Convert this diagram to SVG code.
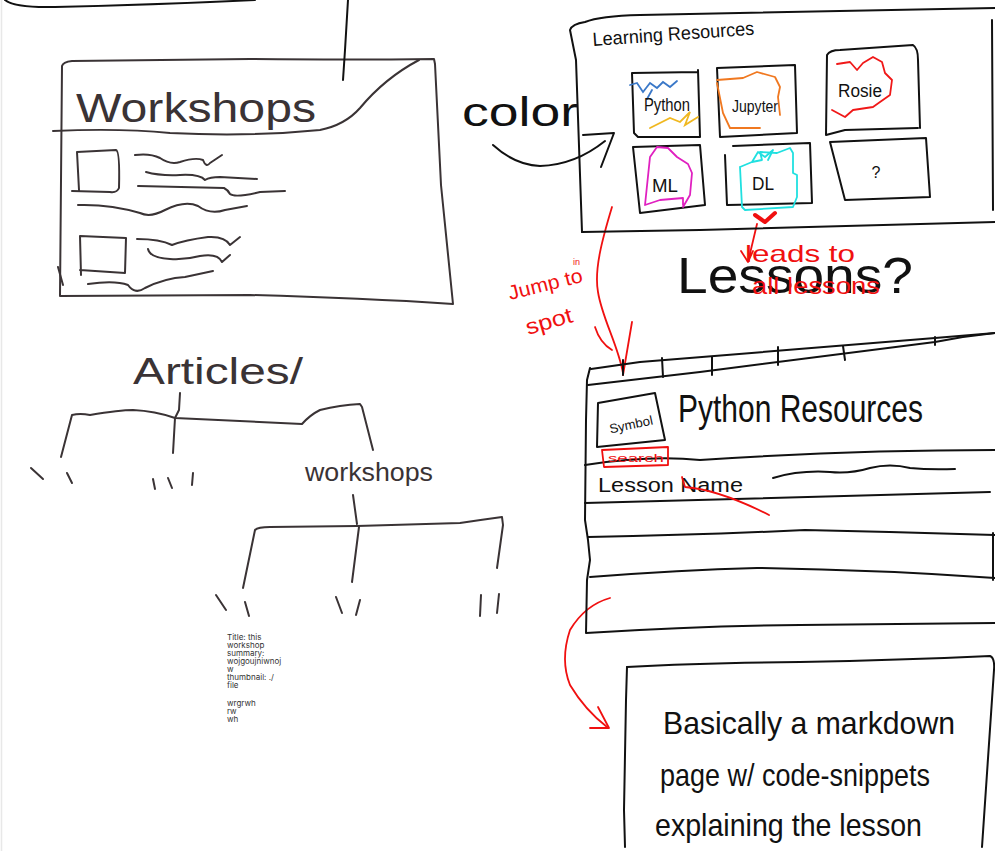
<svg xmlns="http://www.w3.org/2000/svg" width="995" height="851" viewBox="0 0 995 851">
<style>
.k{fill:none;stroke:#111;stroke-width:2;stroke-linecap:round;stroke-linejoin:round}
.g{fill:none;stroke:#3a3335;stroke-width:2;stroke-linecap:round;stroke-linejoin:round}
.r{fill:none;stroke:#f01010;stroke-width:1.8;stroke-linecap:round;stroke-linejoin:round}
.hw{font-family:"Liberation Sans","DejaVu Sans",sans-serif;fill:#111}
.hn{font-family:"Liberation Sans Narrow","Liberation Sans","DejaVu Sans",sans-serif;fill:#111}
.hg{font-family:"Liberation Sans","DejaVu Sans",sans-serif;fill:#3a3335}
.hr{font-family:"Liberation Sans","DejaVu Sans",sans-serif;fill:#f01010}
.note{font-family:Inter,"Liberation Sans",sans-serif;font-size:8px;fill:#333}
</style>
<rect width="995" height="851" fill="#fff"/>
<line x1="1.5" y1="0" x2="1.5" y2="851" stroke="#e8e8e8" stroke-width="1.5"/>

<g id="top-scribble">
<path class="k" d="M5,0 Q15,8 55,7 Q150,5 255,0"/>
</g>

<g id="workshops-card">
<path class="g" d="M60,296 L62,66 Q63,62 72,61 L250,59 Q350,60 434,59 L435,64 L441,185 L453,304 Q360,298 250,295 L60,296"/>
<path class="g" d="M53,131 Q120,128 170,133 Q250,137 320,130 Q345,125 360,108 Q385,78 419,60"/>
<text class="hg" x="76" y="122" font-size="40" textLength="240" lengthAdjust="spacingAndGlyphs">Workshops</text>
<path class="g" d="M77,152 L116,150 Q120,151 119,188 Q117,193 110,192 L72,191 M77,152 L79,190"/>
<path class="g" d="M80,236 L126,238 L125,273 L80,270 M80,236 L81,275 M58,267 L63,285"/>
<path class="g" d="M135,155 Q150,153 160,158 Q170,165 180,162 Q195,157 203,160 Q206,168 210,163 L222,155"/>
<path class="g" d="M146,172 Q160,176 180,175 Q200,174 205,180 Q210,177 220,177 L257,179"/>
<path class="g" d="M138,186 L224,188 Q228,190 230,194 Q235,198 260,192 L285,191"/>
<path class="g" d="M78,205 Q110,204 140,213 Q150,218 165,210 Q185,200 198,206 Q210,215 225,210 L247,206"/>
<path class="g" d="M137,239 Q160,239 172,245 Q185,240 208,237 Q225,236 230,245 L240,237"/>
<path class="g" d="M148,249 Q150,258 170,259 Q185,260 200,256 Q218,253 222,262 L230,255"/>
<path class="g" d="M88,284 Q115,280 128,285 Q135,295 145,288 Q165,278 185,277 L213,271"/>
</g>

<g id="connectors">
<path class="k" d="M348,0 L345,50 L343,80"/>
<path class="k" d="M493,145 Q515,165 540,166 Q575,165 605,141"/>
<path class="k" d="M583,135 L614,133 L601,167"/>
<path class="r" d="M612,207 C602,240 594,270 598,292 C602,318 618,345 623,373"/>
<path class="r" d="M595,327 Q600,343 612,350 M632,322 L623,375"/>
<path class="r" d="M757,224 L748,262 M741,251 L748,262 L753,251"/>
<path class="r" d="M610,598 Q585,605 570,630 Q560,660 570,685 Q585,710 607,727"/>
<path class="r" d="M590,728 L609,728 L598,707"/>
<path class="g" d="M180,393 L179,410 L175,418"/>
<path class="g" d="M61,457 L72,415 Q80,413 90,415 Q120,410 133,410 Q155,411 175,418 L302,424 Q310,415 320,410 Q340,405 360,404 L362,407 L373,450"/>
<path class="g" d="M175,418 L173,453"/>
<path class="g" d="M353,495 L357,524"/>
<path class="g" d="M243,588 L255,530 Q258,527 270,527 L357,526 L460,523 Q480,520 502,517 L503,525 L497,568"/>
<path class="g" d="M359,527 L352,582"/>
</g>

<g id="color-label">
<text class="hw" x="462" y="126" font-size="40" textLength="116" lengthAdjust="spacingAndGlyphs">color</text>
</g>

<g id="learning-resources">
<path class="k" d="M582,232 L576,60 L570,30 Q572,24 585,22 Q600,16 640,15 L995,8"/>
<path class="k" d="M992,20 L993,210"/>
<path class="k" d="M582,232 L700,230 L995,222"/>
<text class="hw" x="593" y="46" font-size="19" textLength="162" lengthAdjust="spacingAndGlyphs" transform="rotate(-4 593 46)">Learning Resources</text>
</g>

<g id="tile-python">
<path class="k" d="M632,73 L698,72 M698,70 L700,137 L638,137 L634,133 L632,73"/>
<path fill="none" stroke="#3a78c8" stroke-width="1.8" stroke-linecap="round" d="M630,85 L637,83 L643,92 L650,83 L657,88 L663,82 L670,87 L677,81 M652,90 L647,99"/>
<path fill="none" stroke="#f0b820" stroke-width="1.8" stroke-linecap="round" d="M650,128 L670,118 L680,122 L690,112 L685,125 L698,117"/>
<text class="hw" x="667" y="111" font-size="18" text-anchor="middle" textLength="46" lengthAdjust="spacingAndGlyphs">Python</text>
</g>

<g id="tile-jupyter">
<path class="k" d="M717,68 L795,65 L797,133 L720,137 L717,68"/>
<path fill="none" stroke="#f07820" stroke-width="1.8" stroke-linecap="round" stroke-linejoin="round" d="M717,80 L743,78 L757,72 L775,77 L780,87 L778,97 L780,115 M717,83 L723,113 L730,128 L760,128"/>
<text class="hw" x="755" y="112" font-size="17" text-anchor="middle" textLength="46" lengthAdjust="spacingAndGlyphs">Jupyter</text>
</g>

<g id="tile-rosie">
<path class="k" d="M827,55 Q830,50 840,50 L913,45 Q918,48 918,60 L920,128 M827,55 L826,135 L845,130 L918,128"/>
<path fill="none" stroke="#f01818" stroke-width="1.8" stroke-linecap="round" stroke-linejoin="round" d="M837,64 L850,62 L857,70 L863,63 L873,57 L882,62 L885,73 L892,80 L890,95 L880,102 L873,107 L853,110 L845,117 L832,110"/>
<text class="hw" x="860" y="97" font-size="18" text-anchor="middle" textLength="44" lengthAdjust="spacingAndGlyphs">Rosie</text>
</g>

<g id="tile-ml">
<path class="k" d="M633,147 L700,145 L705,205 L640,213 L633,147"/>
<path fill="none" stroke="#e020c0" stroke-width="1.8" stroke-linecap="round" stroke-linejoin="round" d="M650,157 L645,205 L660,200 L683,198 L683,205 M650,157 L657,147 L668,148 L677,157 L688,164 L692,173 L690,195 L683,207"/>
<text class="hw" x="665" y="192" font-size="18" text-anchor="middle" textLength="26" lengthAdjust="spacingAndGlyphs">ML</text>
</g>

<g id="tile-dl">
<path class="k" d="M725,155 L727,205 L812,203 L810,143 L733,146"/>
<path fill="none" stroke="#20e0e0" stroke-width="1.8" stroke-linecap="round" stroke-linejoin="round" d="M740,167 L742,207 L745,210 L793,207 L797,197 L797,175 L793,173 L793,153 L790,148 L777,153 L760,152 L762,160 L752,162 L740,167 M752,162 L758,152 L765,157 L773,150 L768,160"/>
<text class="hw" x="763" y="190" font-size="18" text-anchor="middle" textLength="22" lengthAdjust="spacingAndGlyphs">DL</text>
<path fill="none" stroke="#f01010" stroke-width="4" stroke-linecap="round" stroke-linejoin="round" d="M755,215 L765,222 L775,213"/>
</g>

<g id="tile-unknown">
<path class="k" d="M830,142 L926,138 L930,197 L845,200 L830,142"/>
<text class="hw" x="876" y="178" font-size="16" text-anchor="middle">?</text>
</g>

<g id="lessons-label">
<text class="hn" x="677" y="293" font-size="50" textLength="236" lengthAdjust="spacingAndGlyphs">Lessons?</text>
<text class="hr" x="745" y="262" font-size="24" textLength="110" lengthAdjust="spacingAndGlyphs">leads to</text>
<text class="hr" x="752" y="294" font-size="24" textLength="128" lengthAdjust="spacingAndGlyphs">all lessons</text>
</g>

<g id="jump-label">
<text class="hr" x="510" y="300" font-size="20" textLength="76" lengthAdjust="spacingAndGlyphs" transform="rotate(-14 510 300)">Jump to</text>
<text class="hr" x="573" y="265" font-size="9">in</text>
<text class="hr" x="528" y="335" font-size="22" textLength="48" lengthAdjust="spacingAndGlyphs" transform="rotate(-16 528 335)">spot</text>
</g>

<g id="python-resources">
<path class="k" d="M591,369 L640,362 L935,338 L995,333"/>
<path class="k" d="M588,385 L700,372 L935,342 Q965,336 995,333"/>
<path class="k" d="M623,360 L623,375 M662,358 L663,377 M712,357 L712,375 M778,347 L778,365 M843,346 L845,360 M935,337 L935,345"/>
<path class="k" d="M590,368 L587,380 L586,420 L585,520 L588,540 L590,560 L587,580 L586,633 Q700,626 800,625 L995,623"/>
<path class="k" d="M585,465 Q650,455 700,460 Q850,450 995,450"/>
<path class="k" d="M585,503 L990,492"/>
<path class="k" d="M588,537 Q700,535 805,530 Q900,532 995,535"/>
<path class="k" d="M590,577 Q680,570 757,568 Q880,570 995,578"/>
<path class="k" d="M993,533 L993,580"/>
<path class="k" d="M598,403 L655,393 L665,440 L597,447 L598,403"/>
<text class="hw" x="632" y="429" font-size="13" text-anchor="middle" textLength="44" lengthAdjust="spacingAndGlyphs" transform="rotate(-12 632 429)">Symbol</text>
<text class="hn" x="678" y="422" font-size="38" textLength="245" lengthAdjust="spacingAndGlyphs">Python Resources</text>
<path class="r" d="M602,450 L668,447 L668,465 L604,467 Z"/>
<text class="hr" x="636" y="462" font-size="11" text-anchor="middle" textLength="56" lengthAdjust="spacingAndGlyphs">search</text>
<text class="hw" x="598" y="492" font-size="20" textLength="145" lengthAdjust="spacingAndGlyphs">Lesson Name</text>
<path class="k" d="M773,478 Q800,470 830,472 Q850,474 870,468 Q890,463 910,468 Q930,470 955,469"/>
<path class="r" d="M682,477 L685,487 Q720,490 769,515"/>
</g>

<g id="markdown-page">
<path class="k" d="M627,667 Q700,663 800,662 Q900,660 990,656 Q995,658 994,670 L982,847"/>
<path class="k" d="M627,667 L626,700 L624,810 L625,847"/>
<text class="hw" x="663" y="734" font-size="32" textLength="292" lengthAdjust="spacingAndGlyphs">Basically a markdown</text>
<text class="hw" x="660" y="786" font-size="32" textLength="270" lengthAdjust="spacingAndGlyphs">page w/ code-snippets</text>
<text class="hw" x="655" y="836" font-size="32" textLength="267" lengthAdjust="spacingAndGlyphs">explaining the lesson</text>
</g>

<g id="articles">
<text class="hg" x="133" y="384" font-size="36" textLength="170" lengthAdjust="spacingAndGlyphs">Articles/</text>
</g>

<g id="articles-leaves">
<path class="g" d="M31,468 L43,479 M67,473 L72,483 M153,479 L155,489 M168,478 L172,488 M193,473 L192,485"/>
</g>

<g id="workshops-folder">
<text class="hg" x="305" y="481" font-size="26" textLength="128" lengthAdjust="spacingAndGlyphs">workshops</text>
</g>

<g id="workshops-leaves">
<path class="g" d="M216,595 L226,610 M245,602 L249,616 M336,597 L342,613 M360,600 L356,615 M481,595 L480,616 M499,594 L497,613"/>
</g>

<g id="workshop-note">
<text class="note" x="227">
<tspan x="227" y="640">Title: this</tspan>
<tspan x="227" y="648">workshop</tspan>
<tspan x="227" y="656">summary:</tspan>
<tspan x="227" y="664">wojgoujniwnoj</tspan>
<tspan x="227" y="672">w</tspan>
<tspan x="227" y="680">thumbnail: ./</tspan>
<tspan x="227" y="688">file</tspan>
<tspan x="227" y="706">wrgrwh</tspan>
<tspan x="227" y="714">rw</tspan>
<tspan x="227" y="722">wh</tspan>
</text>
</g>
</svg>
